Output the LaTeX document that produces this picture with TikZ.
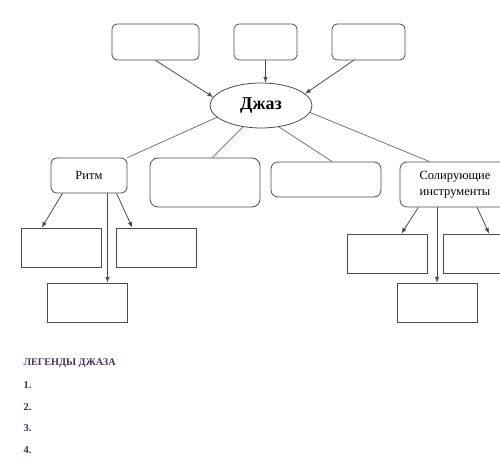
\documentclass[tikz,border=0pt]{standalone}
\usepackage{fontspec}
\setmainfont{Liberation Serif}
\usepackage{xcolor}
\usetikzlibrary{arrows.meta,shapes.geometric}
\definecolor{legendpurple}{RGB}{72,44,96}
\definecolor{boxline}{RGB}{75,75,75}

\begin{document}
\begin{tikzpicture}[x=1pt, y=-1pt, every node/.style={font=\fontsize{12.5}{14}\selectfont},
  roundbox/.style={draw=boxline, line width=0.8pt, rounded corners=5pt, inner sep=0pt},
  childbox/.style={draw=boxline, line width=0.8pt, inner sep=0pt, minimum width=80pt, minimum height=39pt},
  arrowlink/.style={-{Latex[length=2mm, width=1.6mm]}, boxline, line width=0.8pt},
  plainlink/.style={gray!80!black, line width=0.7pt}]

\useasboundingbox (0,0) rectangle (500,462);
\clip (0,0) rectangle (500,462);

% Centre
\node[ellipse, draw=boxline, line width=0.8pt, minimum width=102pt, minimum height=45pt, inner sep=0pt,
  font=\fontsize{18}{20}\selectfont\bfseries] (jazz) at (261,105.5) {Джаз};

% Top boxes
\node[roundbox, minimum width=87pt, minimum height=36pt] (top1) at (155.5,42) {};
\node[roundbox, minimum width=63pt, minimum height=36pt] (top2) at (265.5,42) {};
\node[roundbox, minimum width=73pt, minimum height=36pt] (top3) at (368.5,42) {};

\draw[arrowlink] (top1.south) -- (jazz.170);
\draw[arrowlink] (top2.south) -- (top2.south |- jazz.north);
\draw[arrowlink] (top3.231) -- (jazz.15);

% Second row
\node[roundbox, rounded corners=6pt, minimum width=76pt, minimum height=35pt] (ritm) at (89,175.5) {Ритм};
\node[roundbox, rounded corners=8pt, minimum width=110pt, minimum height=49pt] (midl) at (205,182.5) {};
\node[roundbox, rounded corners=7pt, minimum width=110pt, minimum height=35pt] (midr) at (326,179.5) {};
\node[roundbox, rounded corners=7pt, minimum width=110pt, minimum height=45pt, align=center,
  font=\fontsize{12.5}{16}\selectfont] (solo) at (455,184.5) {Солирующие\\инструменты};

\draw[plainlink] (jazz.195) -- (ritm.north east);
\draw[plainlink] (jazz.230) -- (midl.74);
\draw[plainlink] (jazz.310) -- (midr.71);
\draw[plainlink] (jazz.352) -- (solo.138);

% Rhythm branch
\node[childbox] (ritml) at (61,247.5) {};
\node[childbox] (ritmr) at (156,247.5) {};
\node[childbox] (ritmb) at (87,302.5) {};

\draw[arrowlink] (ritm.214) -- (ritml.134);
\draw[arrowlink] (ritm.316) -- (ritm.316 |- ritmb.north);
\draw[arrowlink] (ritm.327) -- (ritmr.140);

% Solo instruments branch
\node[childbox] (solol) at (387,253.5) {};
\node[childbox] (solor) at (483,253.5) {};
\node[childbox] (solob) at (437,302.5) {};

\draw[arrowlink] (solo.212) -- (solol.54);
\draw[arrowlink] (solob.north |- solo.south) -- (solob.north);
\draw[arrowlink] (solo.314) -- (solor.73);

% Legend list
\node[legendpurple, anchor=west, font=\fontsize{10.2}{12}\selectfont\bfseries] (legend) at (20,363) {ЛЕГЕНДЫ ДЖАЗА};
\foreach \n/\y in {1/385,2/407,3/428,4/450}{%
  \node[legendpurple, anchor=west, font=\fontsize{10.5}{12}\selectfont\bfseries] (item\n) at (20,\y) {\n.};
}

\end{tikzpicture}
\end{document}
